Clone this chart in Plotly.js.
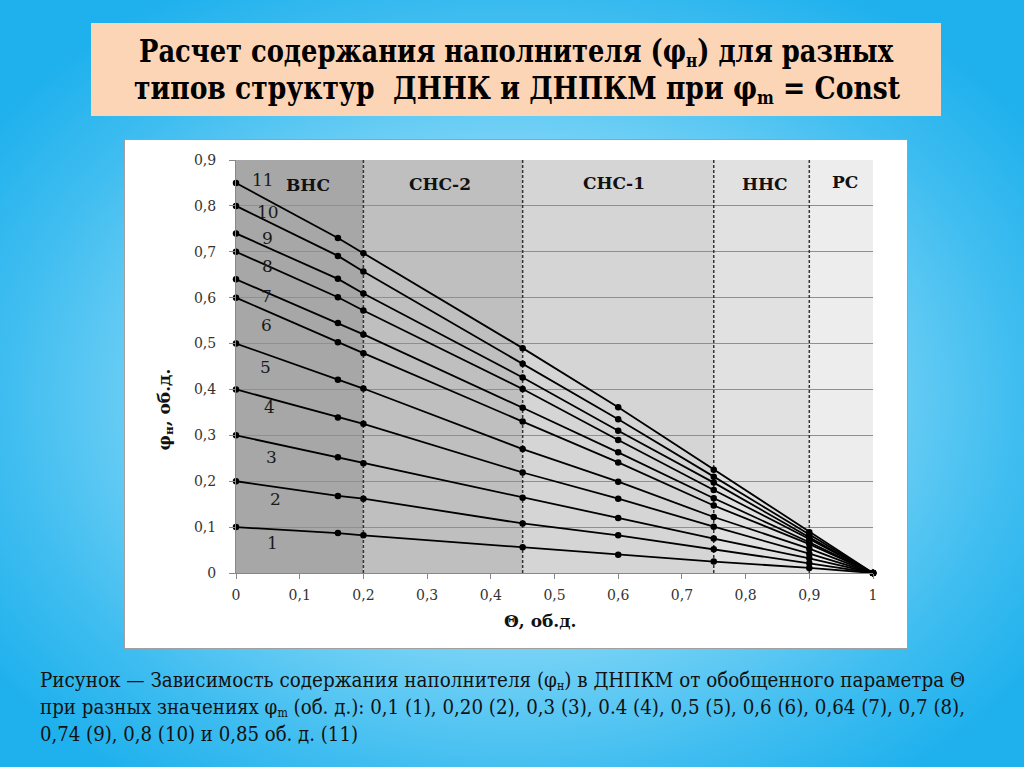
<!DOCTYPE html>
<html><head><meta charset="utf-8">
<script src="https://cdn.plot.ly/plotly-3.0.1.min.js"></script>
<style>
html,body{margin:0;padding:0;width:1024px;height:767px;overflow:hidden;}
body{position:relative;font-family:"DejaVu Serif",serif;
 background:radial-gradient(ellipse 62% 62% at 50% 52%, #c2edfc 0%, #86d8f7 45%, #3fbdf0 80%, #1fb1ed 100%);}
#titlebox{position:absolute;left:91px;top:23px;width:850px;height:93px;background:#fbd5b5;}
.tl{position:absolute;white-space:nowrap;font-family:"DejaVu Serif Condensed","DejaVu Serif",serif;font-weight:bold;font-size:32px;height:34px;line-height:34px;transform-origin:0 50%;color:#000;}
.cap{position:absolute;left:40px;white-space:nowrap;font-family:"DejaVu Serif Condensed","DejaVu Serif",serif;font-size:21px;height:24px;line-height:24px;transform-origin:0 50%;color:#111;}
.sb{font-size:0.6em;position:relative;top:0.25em;line-height:1;}
#frame{position:absolute;left:124px;top:139px;width:782px;height:508px;background:#fff;border:1px solid #a0a0a0;}
#chart{position:absolute;left:124px;top:139px;width:784px;height:510px;}
</style></head>
<body>
<div id="titlebox"></div>
<div class="tl" id="t1" data-l="139" data-r="893" style="top:34px">Расчет содержания наполнителя (φ<span class="sb">н</span>) для разных</div>
<div class="tl" id="t2" data-l="134" data-r="900" style="top:71px">типов структур&nbsp; ДННК и ДНПКМ при φ<span class="sb">m</span> = Const</div>
<div id="frame"></div>
<div id="chart"></div>
<div class="cap" id="c1" data-l="40" data-r="965" style="top:668px">Рисунок — Зависимость содержания наполнителя (φ<span class="sb">н</span>) в ДНПКМ от обобщенного параметра Θ</div>
<div class="cap" id="c2" data-l="40" data-r="965" style="top:695px">при разных значениях φ<span class="sb">m</span> (об. д.): 0,1 (1), 0,20 (2), 0,3 (3), 0.4 (4), 0,5 (5), 0,6 (6), 0,64 (7), 0,7 (8),</div>
<div class="cap" id="c3" data-l="40" data-r="358" style="top:722px">0,74 (9), 0,8 (10) и 0,85 об. д. (11)</div>
<script>
// Data
var theta = [0, 0.16, 0.2, 0.45, 0.6, 0.75, 0.9, 1];
var line1  = [0.10, 0.087, 0.082, 0.056, 0.040, 0.025, 0.011, 0];
var line2  = [0.20, 0.168, 0.162, 0.108, 0.082, 0.052, 0.021, 0];
var line3  = [0.30, 0.252, 0.239, 0.164, 0.120, 0.075, 0.032, 0];
var line4  = [0.40, 0.339, 0.325, 0.219, 0.162, 0.101, 0.042, 0];
var line5  = [0.50, 0.421, 0.402, 0.270, 0.199, 0.122, 0.053, 0];
var line6  = [0.60, 0.503, 0.479, 0.330, 0.241, 0.147, 0.063, 0];
var line7  = [0.64, 0.545, 0.520, 0.360, 0.263, 0.163, 0.067, 0];
var line8  = [0.70, 0.601, 0.572, 0.401, 0.290, 0.181, 0.074, 0];
var line9  = [0.74, 0.641, 0.609, 0.426, 0.310, 0.197, 0.078, 0];
var line10 = [0.80, 0.691, 0.657, 0.456, 0.335, 0.210, 0.084, 0];
var line11 = [0.85, 0.730, 0.697, 0.490, 0.361, 0.225, 0.089, 0];
var series = [line1,line2,line3,line4,line5,line6,line7,line8,line9,line10,line11];
var lineNames = ["1","2","3","4","5","6","7","8","9","10","11"];
var labelX = [0.058,0.062,0.055,0.052,0.047,0.048,0.048,0.050,0.050,0.050,0.043];
var labelY = [0.066,0.162,0.253,0.362,0.449,0.540,0.604,0.668,0.730,0.786,0.856];
var zoneNames = ["ВНС","СНС-2","СНС-1","ННС","РС"];
var zoneStart = [0, 0.2, 0.45, 0.75, 0.9];
var zoneEnd   = [0.2, 0.45, 0.75, 0.9, 1];
var zoneLabelX = [0.113, 0.32, 0.594, 0.83, 0.956];
var zoneLabelY = [0.845, 0.848, 0.85, 0.848, 0.852];
var boundaries = [0.2, 0.45, 0.75, 0.9];
var xTicks = [0,0.1,0.2,0.3,0.4,0.5,0.6,0.7,0.8,0.9,1];
var xTickLabels = ["0","0,1","0,2","0,3","0,4","0,5","0,6","0,7","0,8","0,9","1"];
var yTicks = [0,0.1,0.2,0.3,0.4,0.5,0.6,0.7,0.8,0.9];
var yTickLabels = ["0","0,1","0,2","0,3","0,4","0,5","0,6","0,7","0,8","0,9"];
var xTitle = "Θ, об.д.";
var yTitle = "φ<sub>н</sub>, об.д.";

var zoneColors = ["#a7a7a7","#bfbfbf","#d5d5d5","#e1e1e1","#ededed"];
var serif = "DejaVu Serif, serif";

var traces = series.map(function(s,i){
  return {x: theta, y: s, type:"scatter", mode:"lines+markers", name: lineNames[i],
    line:{color:"#000", width:1.8}, marker:{color:"#000", size:6.5}, cliponaxis:false, showlegend:false, hoverinfo:"skip"};
});

var shapes = [];
zoneStart.forEach(function(z,i){
  shapes.push({type:"rect", xref:"x", yref:"y", x0:z, x1:zoneEnd[i], y0:0, y1:0.9,
    fillcolor: zoneColors[i], line:{width:0}, layer:"below"});
});
boundaries.forEach(function(b){
  shapes.push({type:"line", xref:"x", yref:"y", x0:b, x1:b, y0:0, y1:0.9,
    line:{color:"#333", width:1.5, dash:"3px,2px"}, layer:"between"});
});

var annotations = [];
lineNames.forEach(function(n,i){
  annotations.push({x:labelX[i], y:labelY[i], xref:"x", yref:"y", text:n, showarrow:false,
    font:{family:serif, size:17, color:"#1a1a1a"}});
});
zoneNames.forEach(function(n,i){
  annotations.push({x:zoneLabelX[i], y:zoneLabelY[i], xref:"x", yref:"y", text:"<b>"+n+"</b>", showarrow:false,
    font:{family:serif, size:17, color:"#111"}});
});
// axis titles placed as in the reference (paper coordinates)
annotations.push({x:-0.1115, y:0.396, xref:"paper", yref:"paper", xanchor:"center", yanchor:"middle",
  text:"<b>"+yTitle+"</b>", textangle:-90, showarrow:false, font:{family:serif, size:17, color:"#111"}});
annotations.push({x:0.478, y:-0.1156, xref:"paper", yref:"paper", xanchor:"center", yanchor:"middle",
  text:"<b>"+xTitle+"</b>", showarrow:false, font:{family:serif, size:17, color:"#111"}});

var layout = {
  width:784, height:510,
  margin:{l:112, r:35, t:21, b:76, pad:0},
  paper_bgcolor:"rgba(0,0,0,0)", plot_bgcolor:"#fff",
  showlegend:false,
  font:{family:serif},
  xaxis:{range:[0,1], tickvals:xTicks, ticktext:xTickLabels, ticks:"outside", ticklen:5, tickcolor:"#888",
    showline:true, linecolor:"#888", linewidth:1, showgrid:false, zeroline:false, fixedrange:true,
    ticklabelstandoff:4,
    tickfont:{family:serif, size:14, color:"#333"}},
  yaxis:{range:[0,0.9], tickvals:yTicks, ticktext:yTickLabels, ticks:"outside", ticklen:6, tickcolor:"#888",
    showline:true, linecolor:"#888", linewidth:1, showgrid:true, gridcolor:"#8f8f8f", gridwidth:1, zeroline:false, fixedrange:true,
    ticklabelstandoff:10,
    tickfont:{family:serif, size:14, color:"#333"}},
  shapes:shapes, annotations:annotations
};
Plotly.newPlot("chart", traces, layout, {displayModeBar:false, staticPlot:true});

function fit(){
  ["t1","t2","c1","c2","c3"].forEach(function(id){
    var el=document.getElementById(id);
    var l=+el.dataset.l, r=+el.dataset.r;
    el.style.left=l+"px"; el.style.transform="none";
    var w=el.getBoundingClientRect().width;
    el.style.transform="scaleX("+((r-l)/w)+")";
  });
}
fit();
if(document.fonts && document.fonts.ready){document.fonts.ready.then(fit);}
</script>
</body></html>
